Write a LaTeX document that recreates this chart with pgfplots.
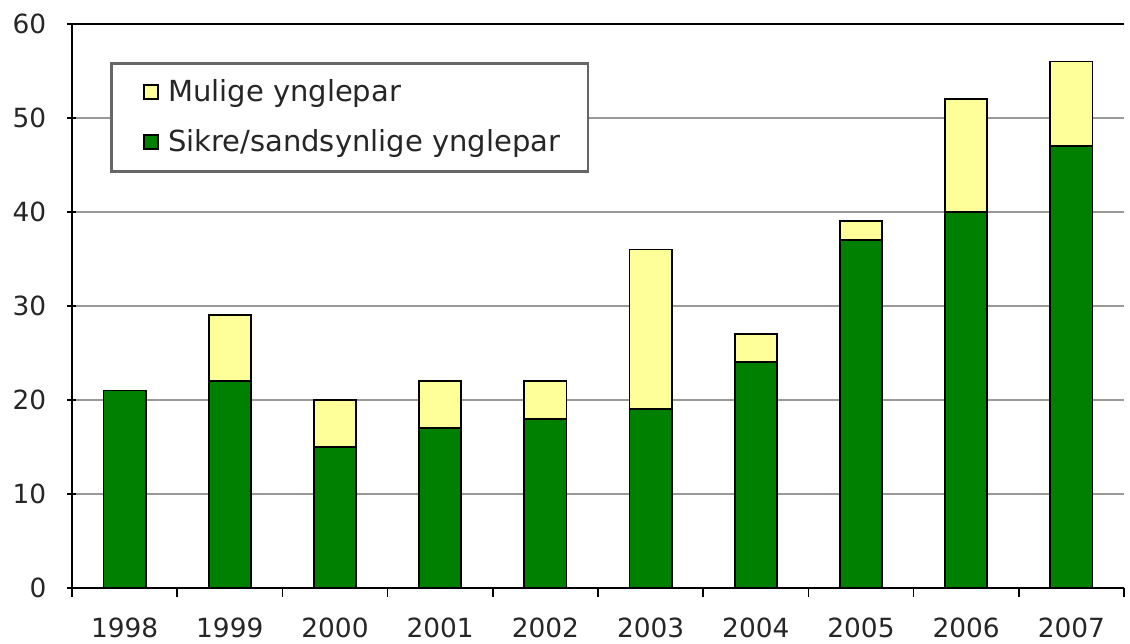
\documentclass[border=0pt]{standalone}
\usepackage{fontspec}
\setmainfont{DejaVu Sans}
\usepackage{pgfplots}
\pgfplotsset{compat=1.18}
\definecolor{bargreen}{HTML}{008000}
\definecolor{baryellow}{HTML}{FFFF99}
\begin{document}
\fontsize{13.2}{15}\selectfont
\begin{tikzpicture}
\begin{axis}[
  scale only axis,
  width=526pt, height=282pt,
  ybar stacked,
  bar width=0.4,
  xmin=-0.5, xmax=9.5,
  ymin=0, ymax=60,
  ytick={0,10,...,60},
  xtick={0,...,9},
  xticklabels={1998,1999,2000,2001,2002,2003,2004,2005,2006,2007},
  minor xtick={-0.5,0.5,...,9.5},
  major x tick style={draw=none},
  minor tick length=4.5pt,
  major tick length=4.5pt,
  tick align=outside,
  xtick pos=left,
  ytick pos=left,
  tick style={black, line width=0.8pt},
  axis x line=box,
  axis y line=left,
  axis line style={-, black, line width=1pt},
  ymajorgrids,
  grid style={gray!80, line width=0.9pt},
  yticklabel style={xshift=-6pt},
  xticklabel style={yshift=-6pt},
  /pgf/number format/assume math mode=true,
  ticklabel style={font=\fontsize{13.2}{15}\selectfont, text=black!85},
  reverse legend,
  legend style={
    at={(0.036,0.933)}, anchor=north west,
    draw=black!60, line width=1.4pt,
    fill=white,
    inner xsep=12pt, inner ysep=6pt,
    row sep=8pt,
    font=\fontsize{14.5}{17}\selectfont,
    text=black!85,
    /tikz/every odd column/.append style={column sep=0pt},
    /tikz/every even column/.append style={column sep=0pt},
  },
  legend cell align=left,
  legend image code/.code={
    \path (-4pt,0pt) (9.5pt,0pt);
    \draw[#1, line width=0.7pt, draw=black] (0pt,-3.5pt) rectangle (7pt,3.5pt);
  },
]
\addplot+[fill=bargreen, draw=black, line width=0.9pt] coordinates {
(0,21) (1,22) (2,15) (3,17) (4,18) (5,19) (6,24) (7,37) (8,40) (9,47)};
\addlegendentry{Sikre/sandsynlige ynglepar}
\addplot+[fill=baryellow, draw=black, line width=0.9pt] coordinates {
(0,0) (1,7) (2,5) (3,5) (4,4) (5,17) (6,3) (7,2) (8,12) (9,9)};
\addlegendentry{Mulige ynglepar}
\end{axis}
\pgfresetboundingbox
\useasboundingbox ([xshift=-36pt,yshift=-28pt]current axis.south west) rectangle ([xshift=3pt,yshift=12pt]current axis.north east);
\end{tikzpicture}
\end{document}
